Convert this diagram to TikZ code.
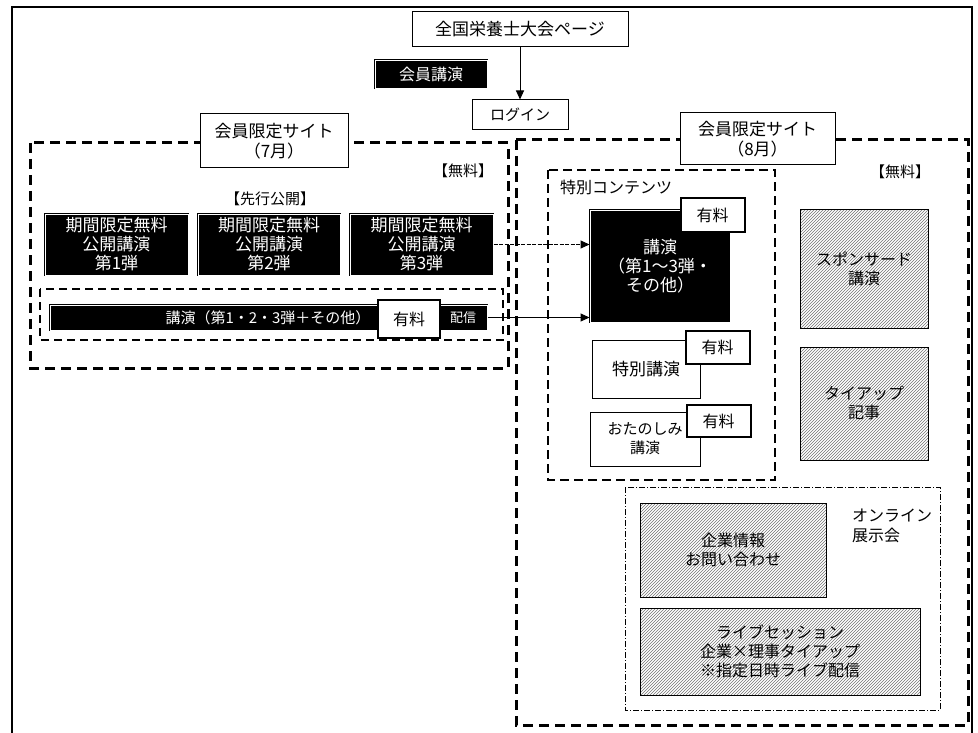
\documentclass[tikz,border=0pt]{standalone}
\usepackage{fontspec}
\setmainfont{Noto Sans CJK JP}
\usetikzlibrary{patterns,arrows.meta}
\tikzset{
  px/.style={x=1pt,y=-1pt},
  wbox/.style={draw=black,fill=white,line width=1pt,align=center,inner sep=0pt,
    font=\fontsize{17}{20}\selectfont},
  bbox/.style={draw=black,fill=black,text=white,double=white,double distance=0.8pt,
    line width=1pt,align=center,inner sep=0pt,font=\fontsize{17}{19}\selectfont},
  paybox/.style={draw=black,fill=white,line width=2pt,inner sep=0pt,
    minimum width=64pt,minimum height=33pt,font=\fontsize{16}{18}\selectfont},
  hbox/.style={draw=black,line width=1pt,pattern=north east lines,pattern color=black!55,align=center,
    inner sep=0pt,font=\fontsize{16}{19}\selectfont},
  region/.style={draw=black,line width=3pt,dash pattern=on 10pt off 6pt},
  subregion/.style={draw=black,line width=2.5pt,dash pattern=on 9pt off 5pt},
  thinregion/.style={draw=black,line width=1pt,dash pattern=on 6pt off 2pt on 1pt off 2pt},
  lbl/.style={inner sep=0pt,align=left,font=\fontsize{15}{19}\selectfont},
  conn/.style={line width=1pt,-{Triangle[length=9pt,width=8pt]}},
}
\begin{document}
\begin{tikzpicture}[px]
\useasboundingbox (0,0) rectangle (978,733);
% outer frame
\draw[line width=1.2pt] (12,733) -- (12,7) -- (972,7) -- (972,733);

% top
\node[wbox,minimum width=216pt,minimum height=35pt] (top) at (520,29.5) {全国栄養士大会ページ};
\node[bbox,minimum width=112pt,minimum height=28pt,font=\fontsize{16}{18}\selectfont] (badge) at (431,74) {会員講演};
\node[wbox,minimum width=96pt,minimum height=30pt,font=\fontsize{15}{18}\selectfont] (login) at (520,115) {ログイン};
\draw[conn] (top) -- (login);

% left region (July)
\draw[region] (30,143) rectangle (508,368);
\node[wbox,minimum width=148pt,minimum height=54pt] (t7) at (274,141) {会員限定サイト\\（7月）};
\node[lbl] (free7) at (463,171) {【無料】};
\node[lbl] (pre) at (270,199) {【先行公開】};
\node[bbox,minimum width=143pt,minimum height=61pt] (b1) at (116.5,244.5) {期間限定無料\\公開講演\\第1弾};
\node[bbox,minimum width=142pt,minimum height=61pt] (b2) at (269,244.5) {期間限定無料\\公開講演\\第2弾};
\node[bbox,minimum width=143pt,minimum height=61pt] (b3) at (421.5,244.5) {期間限定無料\\公開講演\\第3弾};
\draw[draw=black,line width=2pt,dash pattern=on 8pt off 5pt] (40,289) rectangle (503,340);
\node[bbox,minimum width=437pt,minimum height=25pt] (bar) at (268.5,317.5) {};
\node[text=white,inner sep=0pt,font=\fontsize{15}{17}\selectfont] (bartxt) at (268,317.5) {講演（第1・2・3弾＋その他）};
\node[text=white,inner sep=0pt,font=\fontsize{13}{15}\selectfont] (bartxt2) at (463,318) {配信};
\node[paybox,minimum width=62pt,minimum height=38pt] (pay0) at (409,319) {有料};

% right region (August)
\draw[region] (516,140) rectangle (968,725);
\node[wbox,minimum width=155pt,minimum height=52pt] (t8) at (757.5,139) {会員限定サイト\\（8月）};
\node[lbl] (free8) at (900,172) {【無料】};

% special contents
\draw[subregion] (548,170) rectangle (775,480);
\node[lbl,anchor=west,font=\fontsize{16}{19}\selectfont] (sp) at (560,187) {特別コンテンツ};
\node[bbox,minimum width=140pt,minimum height=112pt] (main) at (660,266) {講演\\（第1〜3弾・\\その他）};
\node[paybox] (pay1) at (712.5,215) {有料};
\node[wbox,minimum width=108pt,minimum height=58pt] (tk) at (646,369) {特別講演};
\node[paybox] (pay2) at (717.5,347) {有料};
\node[wbox,minimum width=110pt,minimum height=54pt,font=\fontsize{15}{19}\selectfont] (ot) at (645,439) {おたのしみ\\講演};
\node[paybox,minimum height=32pt] (pay3) at (718.5,421) {有料};

\draw[line width=1pt,dash pattern=on 4pt off 1.5pt,-{Triangle[length=9pt,width=8pt]}] (b3.east) -- (b3.east -| main.west);
\draw[conn] (bar.east) -- (bar.east -| main.west);

% sponsored
\node[hbox,minimum width=128pt,minimum height=118pt] (spon) at (864,269) {スポンサード\\講演};
\node[hbox,minimum width=128pt,minimum height=113pt] (tie) at (864,403.5) {タイアップ\\記事};

% online exhibition
\draw[thinregion] (625,487) rectangle (940,710);
\node[lbl,anchor=north west,font=\fontsize{16}{20}\selectfont] (onl) at (852,509) {オンライン\\展示会};
\node[hbox,minimum width=186pt,minimum height=94pt] (corp) at (733,550) {企業情報\\お問い合わせ};
\node[hbox,minimum width=280pt,minimum height=87pt] (live) at (780,651.5) {ライブセッション\\企業×理事タイアップ\\※指定日時ライブ配信};
\end{tikzpicture}
\end{document}
